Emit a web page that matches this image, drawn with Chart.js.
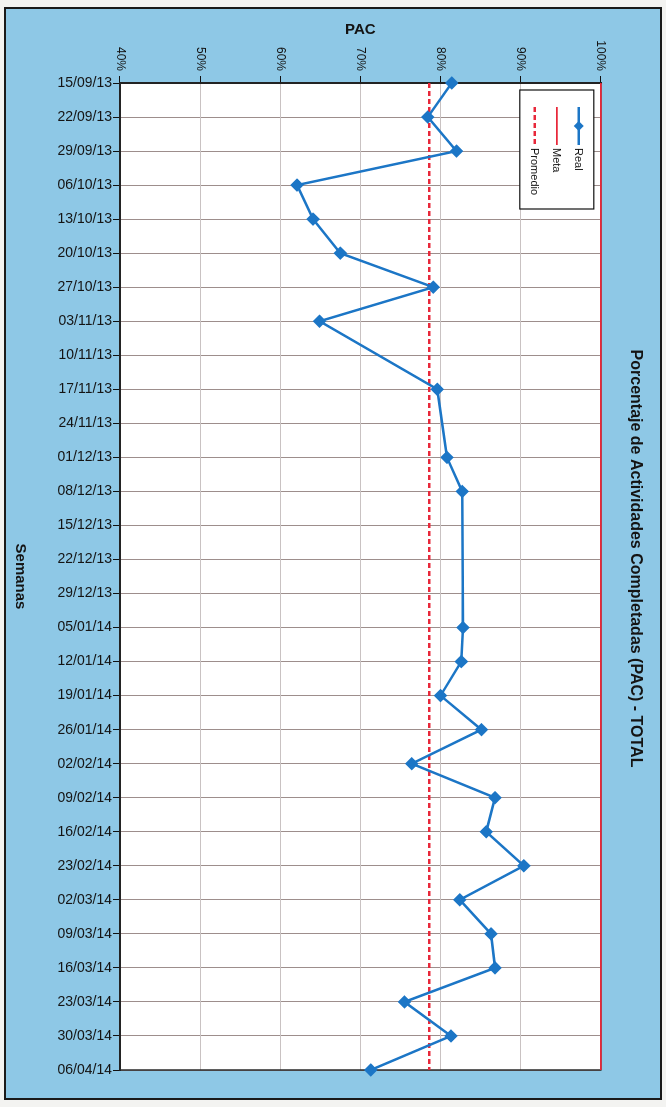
<!DOCTYPE html>
<html>
<head>
<meta charset="utf-8">
<script src="https://cdn.jsdelivr.net/npm/chart.js@4.4.1/dist/chart.umd.min.js"></script>
<style>
    html, body { margin: 0; padding: 0; background: #f3f3f1; width: 666px; height: 1107px; overflow: hidden; }
    /* the chart is drawn lying down and turned a quarter turn clockwise */
    #rot { position: absolute; left: 0; top: 0; width: 1107px; height: 666px; transform-origin: 0 0; transform: translate(666px, 0) rotate(90deg); }
    #frame { position: absolute; left: 7px; top: 4px; width: 1093px; height: 658px; box-sizing: border-box; background: #8ec8e6; border: 2px solid #1a1a1a; }
    #pacChart { position: absolute; left: 0; top: 0; }
</style>
</head>
<body>
<div id="rot">
    <div id="frame"></div>
    <canvas id="pacChart" width="1107" height="666"></canvas>
</div>
<script>
const weeks = ["15/09/13", "22/09/13", "29/09/13", "06/10/13", "13/10/13", "20/10/13", "27/10/13", "03/11/13", "10/11/13", "17/11/13",
    "24/11/13", "01/12/13", "08/12/13", "15/12/13", "22/12/13", "29/12/13", "05/01/14", "12/01/14", "19/01/14", "26/01/14",
    "02/02/14", "09/02/14", "16/02/14", "23/02/14", "02/03/14", "09/03/14", "16/03/14", "23/03/14", "30/03/14", "06/04/14"];

const real = [81.4, 78.4, 82.0, 62.1, 64.1, 67.5, 79.1, 64.9, null, 79.6,
    null, 80.8, 82.7, null, null, null, 82.8, 82.6, 80.0, 85.1,
    76.4, 86.8, 85.7, 90.4, 82.4, 86.3, 86.8, 75.5, 81.3, 71.3];

const meta = [100, 100, 100, 100, 100, 100, 100, 100, 100, 100,
    100, 100, 100, 100, 100, 100, 100, 100, 100, 100,
    100, 100, 100, 100, 100, 100, 100, 100, 100, 100];

const promedio = [78.6, 78.6, 78.6, 78.6, 78.6, 78.6, 78.6, 78.6, 78.6, 78.6,
    78.6, 78.6, 78.6, 78.6, 78.6, 78.6, 78.6, 78.6, 78.6, 78.6,
    78.6, 78.6, 78.6, 78.6, 78.6, 78.6, 78.6, 78.6, 78.6, 78.6];

const pacTicks = [40, 50, 60, 70, 80, 90, 100];

const BLUE = "#1c76c6";
const RED = "#e8283a";
const TEXT = "#141414";

Chart.defaults.font.family = "'Liberation Sans', Arial, sans-serif";
Chart.defaults.color = TEXT;

// white plot area + dark frame round it
const plotFrame = {
    id: "plotFrame",
    beforeDraw(chart) {
        const { ctx, chartArea: a } = chart;
        ctx.save();
        ctx.fillStyle = "#ffffff";
        ctx.fillRect(a.left, a.top, a.right - a.left, a.bottom - a.top);
        ctx.restore();
    },
    beforeDatasetsDraw(chart) {
        const { ctx, chartArea: a } = chart;
        ctx.save();
        ctx.strokeStyle = "#2a2a2a";
        ctx.lineWidth = 1.5;
        ctx.strokeRect(a.left, a.top, a.right - a.left, a.bottom - a.top);
        ctx.restore();
    }
};

// boxed legend inside the plot, items stacked
const boxLegend = {
    id: "boxLegend",
    afterDraw(chart) {
        const { ctx, chartArea: a } = chart;
        const x0 = a.left + 7, y0 = a.top + 7, w = 119, h = 74;
        ctx.save();
        ctx.fillStyle = "#ffffff";
        ctx.fillRect(x0, y0, w, h);
        ctx.strokeStyle = "#111";
        ctx.lineWidth = 1.2;
        ctx.strokeRect(x0, y0, w, h);
        ctx.font = "11px 'Liberation Sans', Arial, sans-serif";
        ctx.textBaseline = "middle";
        ctx.textAlign = "left";
        chart.data.datasets.forEach((ds, i) => {
            const y = y0 + 15 + i * 22;
            ctx.strokeStyle = ds.borderColor;
            ctx.lineWidth = ds.borderWidth;
            ctx.setLineDash(ds.borderDash || []);
            ctx.beginPath();
            ctx.moveTo(x0 + 17, y);
            ctx.lineTo(x0 + 55, y);
            ctx.stroke();
            ctx.setLineDash([]);
            if (ds.pointRadius > 0) {
                ctx.fillStyle = ds.pointBackgroundColor;
                const cx = x0 + 36, r = ds.pointRadius;
                ctx.beginPath();
                ctx.moveTo(cx, y - r);
                ctx.lineTo(cx + r, y);
                ctx.lineTo(cx, y + r);
                ctx.lineTo(cx - r, y);
                ctx.closePath();
                ctx.fill();
            }
            ctx.fillStyle = TEXT;
            ctx.fillText(ds.label, x0 + 58, y + 0.5);
        });
        ctx.restore();
    }
};

new Chart(document.getElementById("pacChart"), {
    type: "line",
    data: {
        labels: weeks,
        datasets: [
            {
                label: "Real",
                data: real,
                borderColor: BLUE,
                backgroundColor: BLUE,
                pointBackgroundColor: BLUE,
                pointBorderColor: BLUE,
                borderWidth: 2.5,
                pointStyle: "rectRot",
                pointRadius: 5,
                tension: 0,
                spanGaps: true,
                order: 0
            },
            {
                label: "Meta",
                data: meta,
                borderColor: RED,
                backgroundColor: RED,
                borderWidth: 1.8,
                pointRadius: 0,
                clip: false,
                order: 1
            },
            {
                label: "Promedio",
                data: promedio,
                borderColor: RED,
                backgroundColor: RED,
                borderWidth: 2.5,
                borderDash: [5, 3],
                pointRadius: 0,
                order: 2
            }
        ]
    },
    options: {
        responsive: false,
        devicePixelRatio: 1,
        animation: false,
        layout: { padding: { top: 19, left: 10, right: 0, bottom: 0 } },
        plugins: {
            legend: { display: false },
            tooltip: { enabled: false },
            title: {
                display: true,
                text: "Porcentaje de Actividades Completadas (PAC) - TOTAL",
                color: TEXT,
                font: { size: 16, weight: "bold" },
                padding: { top: 2, bottom: 25 }
            }
        },
        scales: {
            x: {
                type: "category",
                offset: false,
                border: { display: true, color: "#111", width: 2 },
                grid: { color: "#9d8e8c", lineWidth: 1, tickColor: "#111", tickLength: 7 },
                ticks: { autoSkip: false, minRotation: 90, maxRotation: 90, padding: 1, color: TEXT, font: { size: 14 } },
                title: { display: true, text: "Semanas", color: TEXT, font: { size: 15, weight: "bold" }, padding: { top: 0, bottom: 11 } },
                afterFit: (scale) => { scale.height = 120; }
            },
            y: {
                min: 40,
                max: 100,
                border: { display: true, color: "#111", width: 2 },
                grid: { color: "#c9c2c2", lineWidth: 1, tickColor: "#111", tickLength: 7 },
                afterBuildTicks: (scale) => { scale.ticks = pacTicks.map(v => ({ value: v })); },
                ticks: { padding: 5, color: TEXT, font: { size: 12 }, callback: (v) => v + "%" },
                title: { display: true, text: "PAC", color: TEXT, font: { size: 15, weight: "bold" }, padding: { top: 11, bottom: 0 } },
                afterFit: (scale) => { scale.width = 73; }
            },
            // empty strip on the far side of the plot, keeps the title a bit off centre like the original
            ySpace: {
                position: "right",
                min: 40,
                max: 100,
                grid: { display: false },
                border: { display: false },
                ticks: { display: false },
                afterFit: (scale) => { scale.width = 37; }
            }
        }
    },
    plugins: [plotFrame, boxLegend]
});
</script>
</body>
</html>
